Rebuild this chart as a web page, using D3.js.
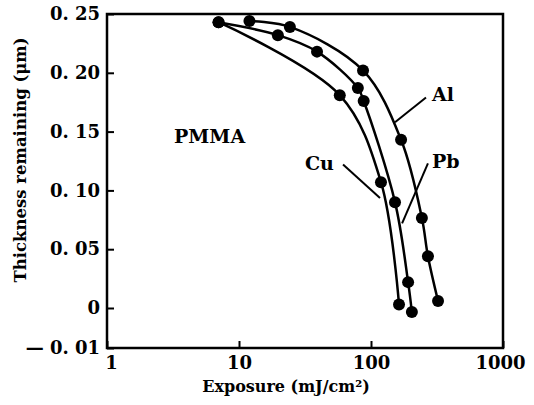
<!DOCTYPE html>
<html>
<head>
<meta charset="utf-8">
<script src="https://cdn.jsdelivr.net/npm/d3@7"></script>
<style>
  body { margin: 0; background: #fff; }
  text { font-family: "DejaVu Serif", serif; font-weight: bold; fill: #000; }
</style>
</head>
<body>
<div id="chart"></div>
<script>
// Thickness remaining of PMMA vs exposure, for three substrates (Al, Pb, Cu)

// Data
var alExposure = [12, 24.3, 87, 169, 243, 270, 322];
var alThickness = [0.244, 0.239, 0.202, 0.143, 0.0765, 0.044, 0.006];

var pbExposure = [7, 19.7, 39, 79.5, 88, 152, 191, 204];
var pbThickness = [0.243, 0.232, 0.218, 0.187, 0.176, 0.090, 0.022, -0.001];

var cuExposure = [7, 58, 119, 163];
var cuThickness = [0.243, 0.181, 0.107, 0.003];

var xTicks = [1, 10, 100, 1000];
var yTicks = [-0.01, 0, 0.05, 0.10, 0.15, 0.20, 0.25];

// SVG size and margins
var svgWidth = 534;
var svgHeight = 405;

var margin = {
  top: 14,
  bottom: 57,
  left: 107,
  right: 31
};

var width = svgWidth - margin.left - margin.right;    // 396
var height = svgHeight - margin.top - margin.bottom;  // 334

var svg = d3.select("#chart")
  .append("svg")
  .attr("width", svgWidth)
  .attr("height", svgHeight);

var chartGroup = svg.append("g")
  .attr("transform", `translate(${margin.left}, ${margin.top})`);

// scales: log x, y axis is broken below 0 (-0.01 sits on the bottom edge)
var xScale = d3.scaleLog()
  .domain([1, 1000])
  .range([0, width]);

var yScale = d3.scaleLinear()
  .domain([-0.01, 0, 0.25])
  .range([height, 294, 0]);

function yFormat(d) {
  if (d === 0) return "0";
  var s = Math.abs(d).toFixed(2).replace(".", ". ");
  return d < 0 ? "\u2014 " + s : s;
}

// axes, ticks point inward
var bottomAxis = d3.axisBottom(xScale)
  .tickValues(xTicks)
  .tickFormat(d3.format("d"))
  .tickSizeInner(-7)
  .tickSizeOuter(0)
  .tickPadding(8);

var leftAxis = d3.axisLeft(yScale)
  .tickValues(yTicks)
  .tickFormat(yFormat)
  .tickSizeInner(-7)
  .tickSizeOuter(0)
  .tickPadding(7);

var xAxisG = chartGroup.append("g")
  .attr("transform", `translate(0, ${height})`)
  .call(bottomAxis);

var yAxisG = chartGroup.append("g")
  .call(leftAxis);

[xAxisG, yAxisG].forEach(function (g) {
  g.select(".domain").remove();
  g.selectAll("line").attr("stroke", "#000").attr("stroke-width", 2);
  g.selectAll("text")
    .attr("font-family", "DejaVu Serif")
    .attr("font-weight", "bold")
    .attr("font-size", 18)
    .attr("fill", "#000");
});

// "1" and "1000" sit a little inside the frame in the original
xAxisG.selectAll(".tick text")
  .attr("dx", d => d === 1 ? 4 : (d === 1000 ? -3 : 0));

// frame
chartGroup.append("rect")
  .attr("x", 0)
  .attr("y", 0)
  .attr("width", width)
  .attr("height", height)
  .attr("fill", "none")
  .attr("stroke", "#000")
  .attr("stroke-width", 2.5);

// axis titles
svg.append("text")
  .attr("transform", `translate(26, ${margin.top + 146}) rotate(-90)`)
  .attr("text-anchor", "middle")
  .attr("font-size", 16.5)
  .text("Thickness remaining (\u03bcm)");

svg.append("text")
  .attr("x", margin.left + 179)
  .attr("y", svgHeight - 13)
  .attr("text-anchor", "middle")
  .attr("font-size", 16)
  .text("Exposure (mJ/cm\u00b2)");

// curves and points
var series = [
  { name: "Al", x: alExposure, y: alThickness },
  { name: "Pb", x: pbExposure, y: pbThickness },
  { name: "Cu", x: cuExposure, y: cuThickness }
];

var line = d3.line()
  .x(d => xScale(d[0]))
  .y(d => yScale(d[1]))
  .curve(d3.curveCatmullRom.alpha(0.5));

series.forEach(function (s) {
  var pts = s.x.map((v, i) => [v, s.y[i]]);

  chartGroup.append("path")
    .datum(pts)
    .attr("d", line)
    .attr("fill", "none")
    .attr("stroke", "#000")
    .attr("stroke-width", 2.5);

  chartGroup.selectAll(null)
    .data(pts)
    .enter()
    .append("circle")
    .attr("cx", d => xScale(d[0]))
    .attr("cy", d => yScale(d[1]))
    .attr("r", 6)
    .attr("fill", "#000");
});

// labels with leader lines (in data units)
var labels = [
  { text: "Al", x: 290, y: 0.176, from: [152, 0.158], to: [261, 0.179] },
  { text: "Pb", x: 290, y: 0.119, from: [172, 0.072], to: [270, 0.123] },
  { text: "Cu", x: 31.6, y: 0.117, from: [61.4, 0.122], to: [117, 0.0935] }
];

labels.forEach(function (l) {
  chartGroup.append("line")
    .attr("x1", xScale(l.from[0]))
    .attr("y1", yScale(l.from[1]))
    .attr("x2", xScale(l.to[0]))
    .attr("y2", yScale(l.to[1]))
    .attr("stroke", "#000")
    .attr("stroke-width", 2);

  chartGroup.append("text")
    .attr("x", xScale(l.x))
    .attr("y", yScale(l.y))
    .attr("font-size", 19)
    .text(l.text);
});

chartGroup.append("text")
  .attr("x", xScale(3.22))
  .attr("y", yScale(0.140))
  .attr("font-size", 19)
  .text("PMMA");
</script>
</body>
</html>
